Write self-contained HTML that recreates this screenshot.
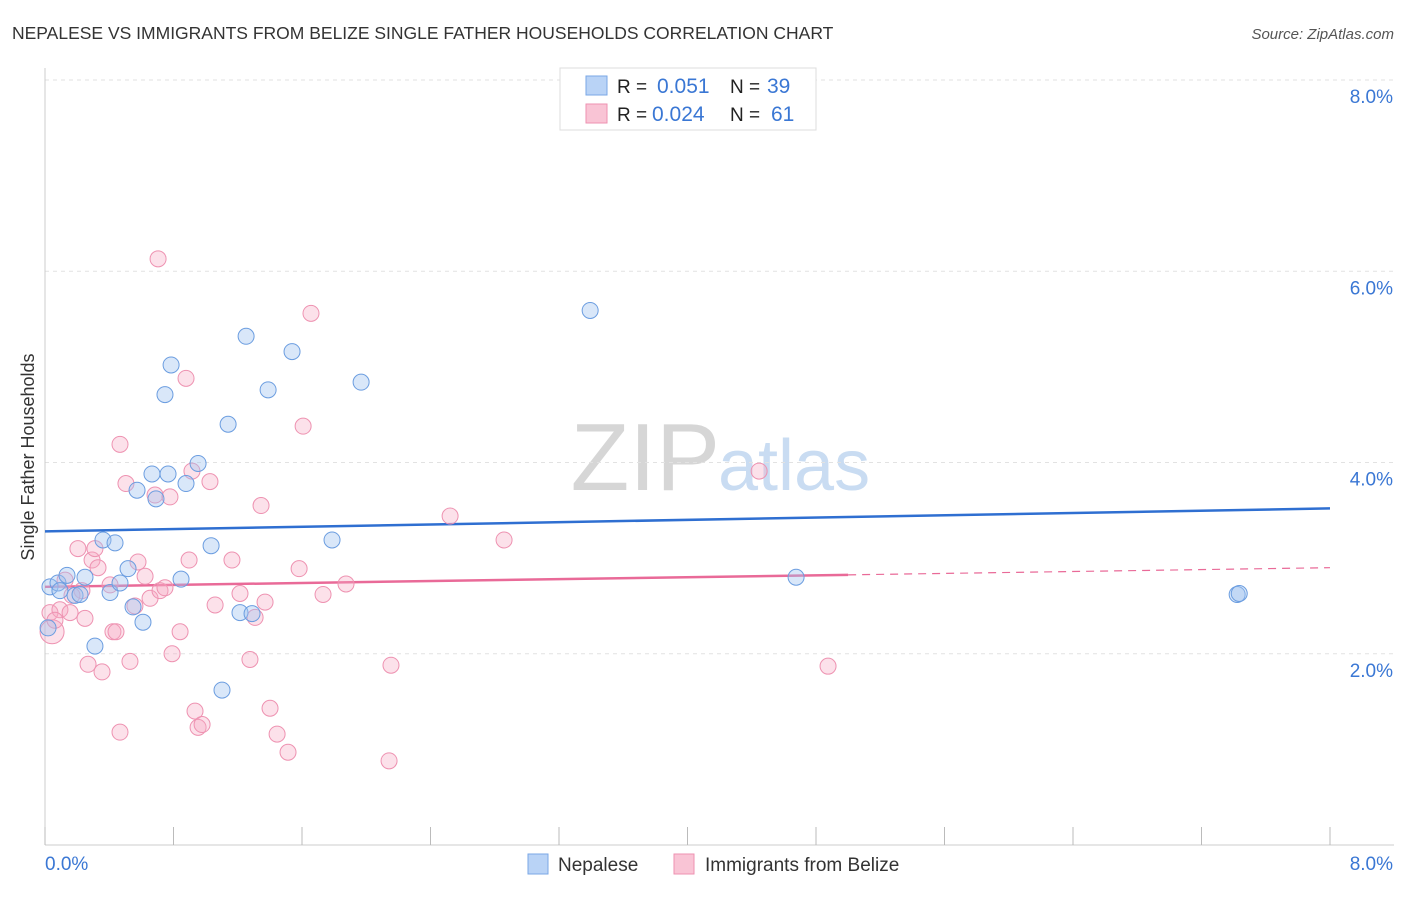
<!DOCTYPE html>
<html><head><meta charset="utf-8">
<style>
body{margin:0;background:#fff;font-family:"Liberation Sans",sans-serif;}
svg text{font-family:"Liberation Sans",sans-serif;}
</style></head>
<body>
<svg id="chart" width="1406" height="892" viewBox="0 0 1406 892">
<text x="12" y="39" font-size="17.5" fill="#333">NEPALESE VS IMMIGRANTS FROM BELIZE SINGLE FATHER HOUSEHOLDS CORRELATION CHART</text>
<text x="1394" y="39" font-size="15" fill="#555" font-style="italic" text-anchor="end">Source: ZipAtlas.com</text>
<text x="720" y="490" font-size="96" fill="#d6d6d6" text-anchor="end" font-family="Liberation Serif">ZIP</text>
<text x="718" y="490" font-size="72" fill="#c9dcf2">atlas</text>
<text transform="translate(34,457) rotate(-90)" font-size="18" fill="#333" text-anchor="middle">Single Father Households</text>
<g id="grid"></g><g id="axes"></g><g id="trend"></g><g id="marks"></g>
<g>
<rect x="560" y="68" width="256" height="62" fill="#fff" stroke="#ddd"/>
<rect x="586" y="76" width="21" height="19" fill="#b9d3f6" stroke="#7aa7e6"/>
<rect x="586" y="104" width="21" height="19" fill="#f9c4d5" stroke="#ee92b1"/>
<text x="617" y="93" font-size="19" fill="#222">R = </text><text x="657" y="93" font-size="21" fill="#3a77d4">0.051</text>
<text x="730" y="93" font-size="19" fill="#222">N = </text><text x="767" y="93" font-size="21" fill="#3a77d4">39</text>
<text x="617" y="121" font-size="19" fill="#222">R = </text><text x="652" y="121" font-size="21" fill="#3a77d4">0.024</text>
<text x="730" y="121" font-size="19" fill="#222">N = </text><text x="771" y="121" font-size="21" fill="#3a77d4">61</text>
</g>
<g>
<rect x="528" y="854" width="20" height="20" fill="#b9d3f6" stroke="#7aa7e6"/>
<text x="558" y="871" font-size="19" fill="#333">Nepalese</text>
<rect x="674" y="854" width="20" height="20" fill="#f9c4d5" stroke="#ee92b1"/>
<text x="705" y="871" font-size="19" fill="#333">Immigrants from Belize</text>
</g>
</svg>
<script>
const yTicks=[2,4,6,8];
const yTickLabels=["2.0%","4.0%","6.0%","8.0%"];
const xEndLabels=["0.0%","8.0%"];
const nepaleseX=[.031,.081,.137,.187,.249,.311,.361,.405,.436,.467,.517,.548,.573,.610,.666,.691,.747,.766,.785,.847,.878,.953,1.034,1.102,1.140,1.214,1.252,1.289,1.389,1.538,1.787,1.968,3.394,4.676,7.422,7.435,.019,.093,.218];
const nepaleseY=[2.70,2.74,2.82,2.61,2.80,2.08,3.19,2.64,3.16,2.74,2.89,2.49,3.71,2.33,3.88,3.62,4.71,3.88,5.02,2.78,3.78,3.99,3.13,1.62,4.40,2.43,5.32,2.42,4.76,5.16,3.19,4.84,5.59,2.80,2.62,2.63,2.27,2.66,2.62];
const belizeX=[.044,.031,.093,.125,.156,.205,.230,.268,.293,.311,.330,.355,.405,.423,.442,.467,.467,.504,.529,.560,.579,.623,.654,.685,.704,.716,.747,.778,.791,.841,.878,.897,.915,.934,.953,.978,1.027,1.059,1.164,1.214,1.276,1.308,1.345,1.370,1.401,1.445,1.513,1.582,1.607,1.656,1.731,1.874,2.142,2.154,2.522,2.858,4.446,4.875,.062,.168,.249];
const belizeY=[2.23,2.43,2.46,2.77,2.43,3.10,2.66,1.89,2.98,3.10,2.90,1.81,2.72,2.23,2.23,1.18,4.19,3.78,1.92,2.50,2.96,2.81,2.58,3.66,6.13,2.66,2.69,3.64,2.00,2.23,4.88,2.98,3.91,1.40,1.23,1.26,3.80,2.51,2.98,2.63,1.94,2.38,3.55,2.54,1.43,1.16,0.97,2.89,4.38,5.56,2.62,2.73,0.88,1.88,3.44,3.19,3.91,1.87,2.35,2.61,2.37];
const nepaleseTrend=[3.28,3.52];
const belizeTrend=[2.70,2.90];
const belizeSolidEnd=5.0;

const X0=45,X1=1330,Y0=845,Y8=80;
const sx=v=>X0+(X1-X0)*v/8;
const sy=v=>Y0-(Y0-Y8)*v/8;
const NS="http://www.w3.org/2000/svg";
function mk(tag,attrs,parent){const e=document.createElementNS(NS,tag);for(const k in attrs)e.setAttribute(k,attrs[k]);document.getElementById(parent).appendChild(e);return e;}

yTicks.forEach((t,i)=>{
  const g=mk('line',{x1:X0,x2:1394,y1:sy(t),y2:sy(t),stroke:'#e2e2e2','stroke-dasharray':'4,4'},'grid');
  
  
  const l=mk('text',{x:1393,y:sy(t)+23,'font-size':19,fill:'#3a77d4','text-anchor':'end'},'grid');
  l.textContent=yTickLabels[i];
  
  
});
const ax=mk('line',{x1:X0,x2:X0,y1:68,y2:Y0,stroke:'#ccc'},'axes');


const bx=mk('line',{x1:X0,x2:1394,y1:Y0,y2:Y0,stroke:'#ccc'},'axes');


for(let i=0;i<=10;i++){
  const t=mk('line',{x1:sx(i*0.8),x2:sx(i*0.8),y1:Y0,y2:Y0-18,stroke:'#bbb'},'axes');
  
  
}
[0,8].forEach((v,i)=>{
  const l=mk('text',{x:i?1393:45,y:870,'font-size':19,fill:'#3a77d4','text-anchor':i?'end':'start'},'axes');
  l.textContent=xEndLabels[i];
  
  
});

belizeX.forEach((x,i)=>{
  const c=mk('circle',{cx:sx(x),cy:sy(belizeY[i]),r:i===0?12:8,fill:'rgba(246,170,196,0.35)',stroke:'#ee92b1','stroke-width':1},'marks');
  
  
});
nepaleseX.forEach((x,i)=>{
  const c=mk('circle',{cx:sx(x),cy:sy(nepaleseY[i]),r:8,fill:'rgba(160,196,240,0.4)',stroke:'#6b9de0','stroke-width':1},'marks');
  
  
});

const tb=mk('line',{x1:sx(0),x2:sx(8),y1:sy(nepaleseTrend[0]),y2:sy(nepaleseTrend[1]),stroke:'#2f6fd1','stroke-width':2.5},'trend');


const by=x=>belizeTrend[0]+(belizeTrend[1]-belizeTrend[0])*x/8;
const tp=mk('line',{x1:sx(0),x2:sx(belizeSolidEnd),y1:sy(by(0)),y2:sy(by(belizeSolidEnd)),stroke:'#e96a98','stroke-width':2.5},'trend');


const td=mk('line',{x1:sx(belizeSolidEnd),x2:sx(8),y1:sy(by(belizeSolidEnd)),y2:sy(by(8)),stroke:'#e96a98','stroke-width':1.2,'stroke-dasharray':'8,6'},'trend');


</script>
</body></html>
